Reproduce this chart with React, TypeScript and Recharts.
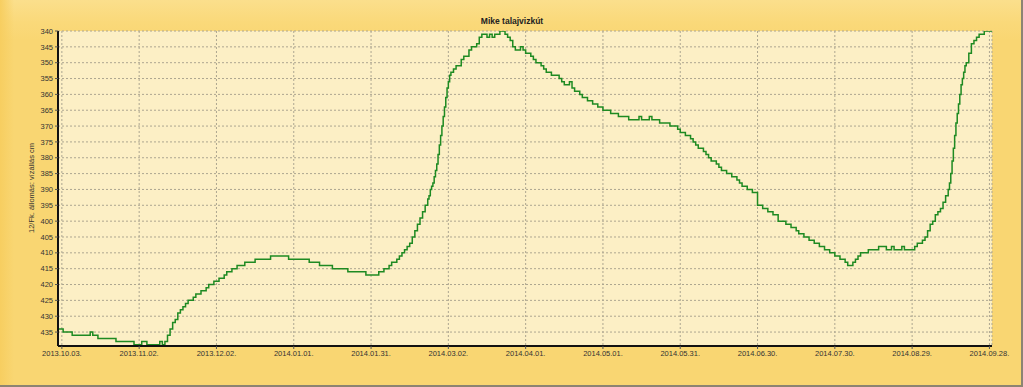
import React from 'react';
import { LineChart, Line, XAxis, YAxis, CartesianGrid } from 'recharts';

// day offsets from 2013.10.03 and water level readings (cm below reference)
const readingDays = [
  -1.5, 0.5, 4, 11, 12, 14, 21, 28, 31, 33, 38, 39, 40, 41, 42, 43, 44, 45, 46, 47, 48, 49, 51, 52, 54, 56, 57, 59, 61, 63,
  64, 66, 68, 71, 75, 81, 88, 96, 100, 105, 111, 118, 123, 125, 127, 128, 130, 131, 132, 133, 134, 135, 136, 137, 138, 139,
  140, 141, 142, 142.5, 143, 143.5, 144, 144.5, 145, 145.5, 146, 146.5, 147, 147.5, 148, 148.5, 149, 149.5, 150, 150.5,
  151, 152, 153, 155, 156, 158, 159, 161, 162, 163, 165, 166, 167,
  168, 170, 172, 173, 174, 175, 176, 178, 179, 180, 182, 183, 184, 186, 187, 188, 190, 193, 194, 195, 197, 198, 199, 201,
  202, 204, 206, 208, 210, 213, 216, 220, 224, 225, 228, 229, 232, 236, 239, 240, 242, 244, 245, 246, 247, 249, 250, 251,
  252, 254, 255, 256, 258, 260, 262, 263, 264, 266, 268, 270, 272, 274, 276, 278, 281, 283, 285, 286, 288, 290, 292, 294,
  296, 298, 300, 302, 304, 305, 307, 308, 309, 310, 313, 317, 320, 322, 323, 326, 327, 331, 332, 334, 335, 336, 337, 338,
  339, 340, 341, 342, 343, 344, 344.5, 345, 345.5, 346, 346.5, 347, 347.5, 348, 348.5, 349, 349.5, 350, 350.5, 351, 352,
  353, 354, 355, 356, 358, 361,
];
const readingLevels = [
  434, 435, 436, 435, 436, 437, 438, 439, 438, 439, 438, 439, 438, 436, 434, 432, 431, 429, 428, 427, 426, 425, 424, 423, 422, 421, 420, 419, 418, 417,
  416, 415, 414, 413, 412, 411, 412, 413, 414, 415, 416, 417, 416, 415, 414, 413, 412, 411, 410, 409, 408, 407, 405, 403, 401, 399,
  397, 395, 393, 392, 390, 389, 388, 386, 384, 382, 379, 376, 373, 370, 367, 364, 361, 358, 356, 354,
  353, 352, 351, 349, 348, 346, 345, 344, 342, 341, 342, 341, 342,
  341, 340, 341, 342, 343, 345, 346, 345, 346, 347, 348, 349, 350, 351, 352, 353, 354, 355, 356, 357, 356, 358, 359, 360,
  361, 362, 363, 364, 365, 366, 367, 368, 367, 368, 367, 368, 369, 370, 371, 372, 373, 374, 375, 376, 377, 378, 379, 380,
  381, 382, 383, 384, 385, 386, 387, 388, 389, 390, 391, 395, 396, 397, 398, 400, 401, 402, 403, 404, 405, 406, 407, 408,
  409, 410, 411, 412, 413, 414, 413, 412, 411, 410, 409, 408, 409, 408, 409, 408, 409, 408, 407, 406, 405, 403, 401, 400,
  398, 397, 396, 394, 392, 390, 388, 385, 381, 377, 373, 369, 366, 363, 360, 357, 355, 353, 351, 350, 347,
  344, 343, 342, 341, 340, 340,
];

const tickDays = [0, 30, 60, 90, 120, 150, 180, 210, 240, 270, 300, 330, 360];
const tickLabels = [
  '2013.10.03.', '2013.11.02.', '2013.12.02.', '2014.01.01.', '2014.01.31.', '2014.03.02.', '2014.04.01.',
  '2014.05.01.', '2014.05.31.', '2014.06.30.', '2014.07.30.', '2014.08.29.', '2014.09.28.',
];
const levelTicks = [340, 345, 350, 355, 360, 365, 370, 375, 380, 385, 390, 395, 400, 405, 410, 415, 420, 425, 430, 435];

const title = 'Mike talajvizkút';
const yLabel = '12/Fk. állomás: vízállás cm';

const data = readingDays.map((d, i) => ({ day: d, level: readingLevels[i] }));

const FONT = '"Liberation Sans", Arial, sans-serif';

export default function App() {
  return (
    <div
      style={{
        position: 'absolute',
        left: 0,
        top: 0,
        width: 1023,
        height: 387,
        boxSizing: 'border-box',
        borderRight: '2px solid #8c8472',
        borderBottom: '2px solid #8c8472',
        background: 'linear-gradient(to bottom, #FBDF8C 0px, #FAD97A 22px, #F9D672 40px, #F9D672 100%)',
        overflow: 'hidden',
      }}
    >
      <div
        style={{
          position: 'absolute',
          left: 0,
          top: 0,
          width: 14,
          height: 387,
          background: 'linear-gradient(to right, #F7CE60, rgba(249,214,114,0))',
        }}
      />
      <LineChart
        width={1023}
        height={387}
        data={data}
        margin={{ top: 31, right: 31, left: 28, bottom: 0 }}
        style={{ position: 'absolute', left: 0, top: 0 }}
      >
        <CartesianGrid fill="#FCEFC5" stroke="#ADA690" strokeDasharray="2 2" />
        <XAxis
          dataKey="day"
          type="number"
          domain={[-1.5, 361]}
          allowDataOverflow
          ticks={tickDays}
          tickFormatter={(v: number) => tickLabels[tickDays.indexOf(v)] ?? ''}
          height={41}
          tickSize={3}
          tickMargin={2}
          axisLine={{ stroke: '#111', strokeWidth: 2 }}
          tickLine={{ stroke: '#555' }}
          tick={{ fontSize: 7.5, fill: '#333', fontFamily: FONT }}
          interval={0}
        />
        <XAxis
          xAxisId="top"
          dataKey="day"
          type="number"
          orientation="top"
          domain={[-1.5, 361]}
          height={0}
          tick={false}
          tickLine={false}
          axisLine={{ stroke: '#6f6550', strokeWidth: 2 }}
        />
        <YAxis
          type="number"
          reversed
          domain={[340, 439.4]}
          allowDataOverflow
          ticks={levelTicks}
          width={30}
          tickSize={3}
          tickMargin={2}
          axisLine={{ stroke: '#111', strokeWidth: 2 }}
          tickLine={{ stroke: '#555' }}
          tick={{ fontSize: 7.5, fill: '#333', fontFamily: FONT }}
          interval={0}
        />
        <YAxis
          yAxisId="right"
          orientation="right"
          type="number"
          reversed
          domain={[340, 439.4]}
          width={0}
          tick={false}
          tickLine={false}
          axisLine={{ stroke: '#4a4538', strokeWidth: 1.5 }}
        />
        <Line
          type="stepAfter"
          dataKey="level"
          stroke="#1E8A22"
          strokeWidth={1.5}
          dot={false}
          isAnimationActive={false}
        />
      </LineChart>
      <svg
        width={1023}
        height={387}
        style={{ position: 'absolute', left: 0, top: 0, pointerEvents: 'none' }}
      >
        <text x={512} y={24} textAnchor="middle" fontFamily={FONT} fontSize={8.5} fontWeight="bold" fill="#222">
          {title}
        </text>
        <text
          x={34}
          y={188}
          textAnchor="middle"
          transform="rotate(-90 34 188)"
          fontFamily={FONT}
          fontSize={7.5}
          fill="#333"
        >
          {yLabel}
        </text>
      </svg>
    </div>
  );
}
